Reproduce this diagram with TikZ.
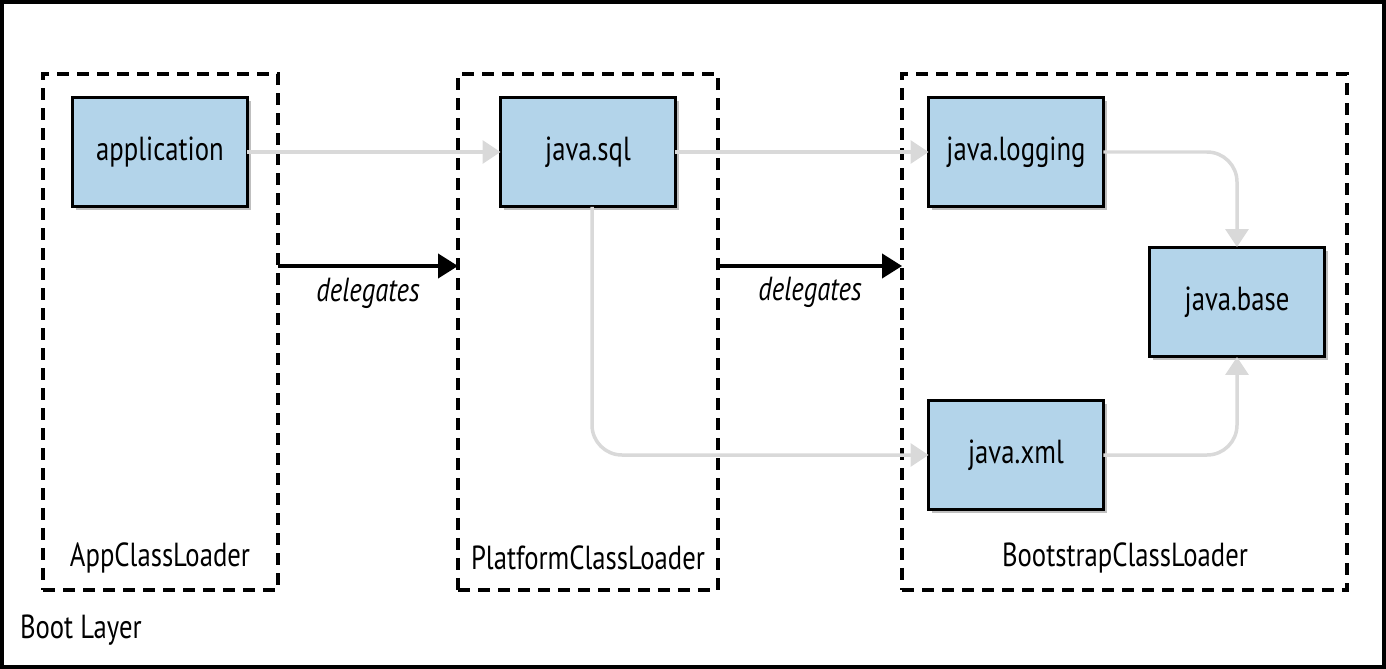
\documentclass[tikz,border=0pt]{standalone}
\usepackage{fontspec}
\setmainfont[FakeStretch=0.8]{PT Sans}
\usetikzlibrary{arrows.meta,shadows}
\begin{document}
\begin{tikzpicture}[x=0.02cm,y=-0.02cm,every node/.style={font=\fontsize{19}{22}\selectfont, inner sep=0pt, outer sep=0pt},
  module/.style={draw=black, line width=0.06cm, fill={rgb,255:red,179;green,212;blue,234}, minimum width=3.5cm, minimum height=2.2cm, drop shadow={shadow xshift=0.07cm, shadow yshift=-0.07cm, opacity=0.25, fill=black}},
  loader/.style={draw=black, line width=0.07cm, dash pattern=on 0.24cm off 0.16cm, minimum height=10.32cm},
  dep/.style={draw={rgb,255:red,217;green,217;blue,217}, line width=0.07cm, rounded corners=0.6cm, -{Triangle[width=0.46cm, length=0.36cm]}},
  delegate/.style={draw=black, line width=0.08cm, -{Triangle[width=0.48cm, length=0.4cm]}}]
\useasboundingbox (0,0) rectangle (1386,669);
\draw[line width=0.08cm] (2,2) rectangle (1384,667);
% class loaders
\node[loader, minimum width=4.7cm] (appcl) at (160.5,332) {};
\node[loader, minimum width=5.2cm] (platcl) at (588,332) {};
\node[loader, minimum width=8.9cm] (bootcl) at (1124.5,332) {};
\node (appname) at (160,558) {AppClassLoader};
\node (platname) at (588,558) {PlatformClassLoader};
\node (bootname) at (1125,558) {BootstrapClassLoader};
\node[anchor=west] (layer) at (20,630) {Boot Layer};
% modules
\node[module] (application) at (160,152) {application};
\node[module] (sql) at (588,152) {java.sql};
\node[module] (logging) at (1016,152) {java.logging};
\node[module] (xml) at (1016,455) {java.xml};
\node[module] (base) at (1237,302) {java.base};
% readability
\draw[dep] (application.east) -- (sql.west);
\draw[dep] (sql.east) -- (logging.west);
\draw[dep] (sql.south -| 592,0) |- (xml.west);
\draw[dep] (logging.east) -| (base.north);
\draw[dep] (xml.east) -| (base.south);
% delegation
\draw[delegate] (appcl.east |- 0,266) -- (platcl.west |- 0,266);
\draw[delegate] (platcl.east |- 0,266) -- (bootcl.west |- 0,266);
\node (dlg1) at (368,293) {\itshape delegates};
\node (dlg2) at (810,292) {\itshape delegates};
\end{tikzpicture}
\end{document}
